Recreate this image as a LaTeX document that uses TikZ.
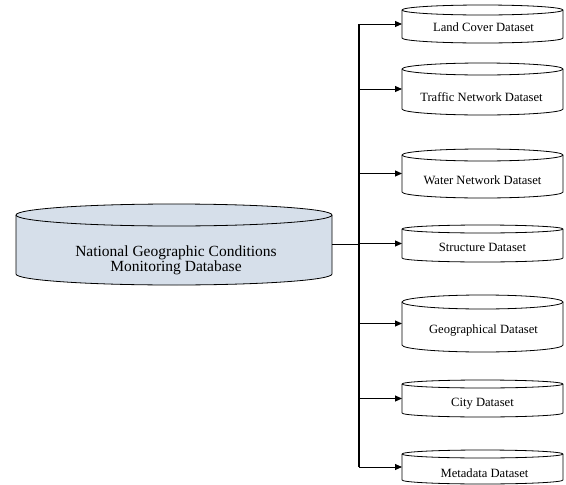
\documentclass[tikz,border=0pt]{standalone}
\usepackage{fontspec}
\setmainfont{Liberation Serif}
\usetikzlibrary{arrows.meta}
\definecolor{dbblue}{RGB}{214,223,234}

\tikzset{
  drumbox/.style={minimum width=#1, inner sep=0pt, outer sep=0pt},
  drumline/.style={draw=black, line width=0.8pt, line join=round},
  feed/.style={line width=0.9pt, -{Triangle[length=7pt,width=6pt]}},
  trunkline/.style={line width=1.1pt},
  smalllabel/.style={font=\fontsize{12.6}{14}\selectfont, inner sep=0pt, anchor=base},
  mainlabel/.style={font=\fontsize{15.5}{13.5}\selectfont, inner sep=0pt, align=center},
}

% drum (database cylinder): name, centre x, centre y, width, height, cap radius, fill
\newcommand\drum[7]{%
  \node[drumbox=#4, minimum height=#5] (#1) at (#2,#3) {};
  \filldraw[drumline, fill=#7]
    (#1.north west) ++(0,#6) -- ++(0,#5-2*#6)
    arc[start angle=180, end angle=0, x radius=#4/2, y radius=#6]
    -- ++(0,-#5+2*#6)
    arc[start angle=0, end angle=-180, x radius=#4/2, y radius=#6] -- cycle;
  \draw[drumline] (#1.north west) ++(0,#6)
    arc[start angle=180, end angle=0, x radius=#4/2, y radius=#6];
}

\begin{document}
\begin{tikzpicture}[x=1pt, y=-1pt]
  \useasboundingbox (0,0) rectangle (566,485);

  % central database
  \drum{ngcm}{174}{244.5}{316}{81}{11}{dbblue}
  \node[mainlabel] (ngcm-t) at (176,260.5) {National Geographic Conditions\\Monitoring Database};

  % datasets
  \drum{lc}{482.5}{24}{161}{38}{5}{white}
  \drum{tn}{482.5}{89}{161}{52}{6}{white}
  \drum{wn}{482.5}{173.5}{161}{49}{6}{white}
  \drum{st}{482.5}{243.5}{161}{37}{4}{white}
  \drum{geo}{482.5}{323.5}{161}{57}{7}{white}
  \drum{city}{482.5}{398.5}{161}{37}{4}{white}
  \drum{meta}{482.5}{467}{161}{34}{4}{white}

  \node[smalllabel] (lc-t)   at (483.5,31)  {Land Cover Dataset};
  \node[smalllabel] (tn-t)   at (481.5,101) {Traffic Network Dataset};
  \node[smalllabel] (wn-t)   at (482.5,184) {Water Network Dataset};
  \node[smalllabel] (st-t)   at (482.5,251) {Structure Dataset};
  \node[smalllabel] (geo-t)  at (483.5,333) {Geographical Dataset};
  \node[smalllabel] (city-t) at (482.5,406) {City Dataset};
  \node[smalllabel] (meta-t) at (484.5,477) {Metadata Dataset};

  % distribution bus
  \coordinate (bus-top) at (359,0 |- lc.west);
  \coordinate (bus-bot) at (359,0 |- meta.west);
  \draw[trunkline] (bus-top) -- (bus-bot);
  \draw[line width=0.9pt] (ngcm.east) -- (ngcm.east -| bus-top);
  \foreach \d in {lc,tn,wn,st,geo,city,meta}
    \draw[feed] (\d.west -| bus-top) -- (\d.west);
\end{tikzpicture}
\end{document}
